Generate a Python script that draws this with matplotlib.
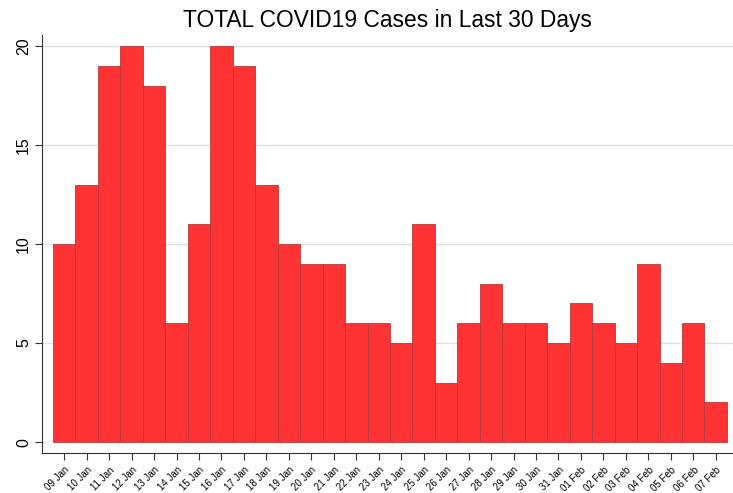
import numpy as np
import matplotlib.pyplot as plt
from matplotlib import font_manager

plt.rcParams['font.family'] = ['Liberation Sans', 'DejaVu Sans']

days = ['09 Jan', '10 Jan', '11 Jan', '12 Jan', '13 Jan', '14 Jan', '15 Jan',
        '16 Jan', '17 Jan', '18 Jan', '19 Jan', '20 Jan', '21 Jan', '22 Jan',
        '23 Jan', '24 Jan', '25 Jan', '26 Jan', '27 Jan', '28 Jan', '29 Jan',
        '30 Jan', '31 Jan', '01 Feb', '02 Feb', '03 Feb', '04 Feb', '05 Feb',
        '06 Feb', '07 Feb']
cases = [10, 13, 19, 20, 18, 6, 11, 20, 19, 13, 10, 9, 9, 6, 6, 5, 11, 3, 6, 8,
         6, 6, 5, 7, 6, 5, 9, 4, 6, 2]
yticks = [0, 5, 10, 15, 20]

# title looks like a narrow face; use it if present
names = {f.name for f in font_manager.fontManager.ttflist}
if 'Liberation Sans Narrow' in names:
    title_font, title_size = 'Liberation Sans Narrow', 19
else:
    title_font, title_size = 'Liberation Sans', 16.4

fig = plt.figure(figsize=(7.33, 4.93), dpi=100)
ax = fig.add_axes([42/733, 40/493, 691/733, 418/493])

x = np.arange(len(days))
ax.bar(x, cases, width=1.0, color='#ff3333', edgecolor='#b83a3a',
       linewidth=0.6, zorder=3)

ax.set_xlim(-0.99, 29.77)
ax.set_ylim(-0.55, 20.55)
ax.set_yticks(yticks)
ax.set_yticklabels([str(v) for v in yticks], rotation=90, va='center',
                   fontsize=11.5)
ax.set_xticks(x)
ax.set_xticklabels(days, rotation=45, ha='right', rotation_mode='anchor',
                   fontsize=7)

for v in yticks[1:]:
    ax.axhline(v, color='#e0e0e0', linewidth=1, zorder=1)

ax.spines['top'].set_visible(False)
ax.spines['right'].set_visible(False)
ax.spines['left'].set_color('#333333')
ax.spines['bottom'].set_color('#333333')
ax.tick_params(axis='both', direction='out', length=5, color='#333333')
ax.tick_params(axis='y', pad=3)

ax.set_title('TOTAL COVID19 Cases in Last 30 Days', fontsize=title_size,
             family=[title_font, 'DejaVu Sans'], pad=6)

fig.savefig('out.png', dpi=100)
